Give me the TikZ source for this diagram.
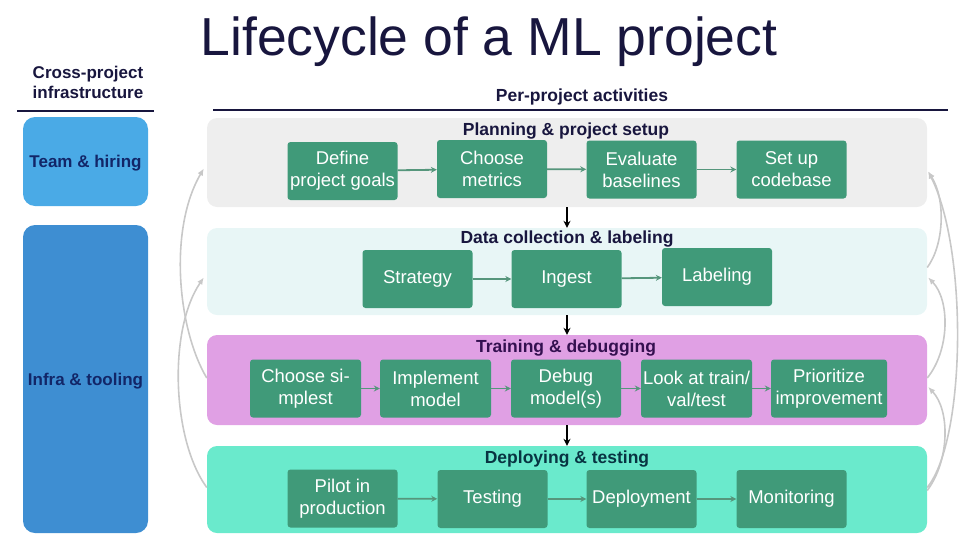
\documentclass[tikz,border=0pt]{standalone}
\usepackage{fontspec}
\setmainfont{Liberation Sans}
\usetikzlibrary{arrows.meta}
\definecolor{navy}{RGB}{24,22,62}
\definecolor{boxtext}{RGB}{18,38,104}
\definecolor{teamblue}{RGB}{74,170,230}
\definecolor{infrablue}{RGB}{62,142,210}
\definecolor{stepgreen}{RGB}{64,154,121}
\definecolor{flowgreen}{RGB}{86,150,124}
\definecolor{fbgray}{RGB}{200,200,200}
\definecolor{planbg}{RGB}{238,238,238}
\definecolor{databg}{RGB}{232,246,246}
\definecolor{trainbg}{RGB}{224,160,228}
\definecolor{deploybg}{RGB}{106,234,204}
\definecolor{traintext}{RGB}{52,16,80}
\definecolor{deploytext}{RGB}{8,52,66}
\begin{document}
\begin{tikzpicture}[x=1pt,y=-1pt,
  band/.style={rounded corners=10pt, minimum width=720pt, inner sep=0pt},
  stepbox/.style={fill=stepgreen, text=white, rounded corners=3pt,
    minimum width=110pt, minimum height=58pt, inner sep=0pt, align=center,
    font=\fontsize{18.5}{22}\selectfont},
  bandtitle/.style={anchor=base, inner sep=0pt, font=\fontsize{17.5}{20}\selectfont\bfseries},
  infra/.style={rounded corners=12pt, minimum width=125pt, inner sep=0pt,
    text height=12pt, text depth=0pt,
    text=boxtext, font=\fontsize{17}{20}\selectfont\bfseries},
  flow/.style={draw=flowgreen, line width=1.8pt, -{Stealth[length=6pt,width=6pt]}},
  down/.style={draw=black, line width=1.3pt, -{Stealth[length=7pt,width=7pt]}},
  feedback/.style={draw=fbgray, line width=1.6pt, -{Latex[length=7pt,width=6pt]}}
]
\useasboundingbox (0,0) rectangle (969,544);

% title
\node[anchor=base, inner sep=0pt, text=navy, font=\fontsize{53.5}{60}\selectfont] (title) at (489,55) {Lifecycle of a ML project};

% left column
\node[anchor=base, inner sep=0pt, align=center, text=navy, font=\fontsize{17}{20}\selectfont\bfseries] (crosshdr) at (88,98) {Cross-project\\infrastructure};
\coordinate (lhl) at (17,111);
\coordinate (lhr) at (154,111);
\draw[line width=1.2pt, navy] (lhl) -- (lhr);
\node[infra, fill=teamblue, minimum height=89pt] (team) at (85.5,161.5) {Team \& hiring};
\node[infra, fill=infrablue, minimum height=308pt] (infra) at (85.5,379) {Infra \& tooling};

% right header
\node[anchor=base, inner sep=0pt, text=navy, font=\fontsize{17.5}{20}\selectfont\bfseries] (perhdr) at (582,101) {Per-project activities};
\coordinate (rhl) at (213,110);
\coordinate (rhr) at (948,110);
\draw[line width=1.2pt, navy] (rhl) -- (rhr);

% bands
\node[band, fill=planbg, minimum height=89pt] (plan) at (567,162.5) {};
\node[band, fill=databg, minimum height=87pt] (data) at (567,271.5) {};
\node[band, fill=trainbg, minimum height=90pt] (train) at (567,380) {};
\node[band, fill=deploybg, minimum height=87pt] (deploy) at (567,489.5) {};

\node[bandtitle, text=navy] (plant) at (566,135) {Planning \& project setup};
\node[bandtitle, text=navy] (datat) at (567,243) {Data collection \& labeling};
\node[bandtitle, text=traintext] (traint) at (566,352) {Training \& debugging};
\node[bandtitle, text=deploytext] (deployt) at (567,463) {Deploying \& testing};

% row 1
\node[stepbox] (goals) at (342.5,171) {Define\\project goals};
\node[stepbox] (metrics) at (492,169) {Choose\\metrics};
\node[stepbox] (baselines) at (641.5,169.5) {Evaluate\\baselines};
\node[stepbox] (codebase) at (791.5,169.5) {Set up\\codebase};
% row 2
\node[stepbox] (strategy) at (417.5,279) {Strategy};
\node[stepbox] (ingest) at (566.5,279) {Ingest};
\node[stepbox] (labeling) at (717,277) {Labeling};
% row 3
\node[stepbox, minimum width=111pt] (simplest) at (305.5,388.5) {Choose si-\\mplest};
\node[stepbox, minimum width=111pt] (implement) at (435.5,388.5) {Implement\\model};
\node[stepbox] (debug) at (566,388.5) {Debug\\model(s)};
\node[stepbox, minimum width=111pt] (look) at (696.5,388.5) {Look at train/\\val/test};
\node[stepbox, minimum width=116pt] (prioritize) at (829,388.5) {Prioritize\\improvement};
% row 4
\node[stepbox] (pilot) at (342.5,498.5) {Pilot in\\production};
\node[stepbox] (testing) at (492.5,499) {Testing};
\node[stepbox] (deployment) at (641.5,499) {Deployment};
\node[stepbox] (monitoring) at (791.5,499) {Monitoring};

% flows within rows
\draw[flow] (goals) -- (metrics);
\draw[flow] (metrics) -- (baselines);
\draw[flow] (baselines) -- (codebase);
\draw[flow] (strategy) -- (ingest);
\draw[flow] (ingest) -- (labeling);
\draw[flow] (simplest) -- (implement);
\draw[flow] (implement) -- (debug);
\draw[flow] (debug) -- (look);
\draw[flow] (look) -- (prioritize);
\draw[flow] (pilot) -- (testing);
\draw[flow] (testing) -- (deployment);
\draw[flow] (deployment) -- (monitoring);

% stage to stage
\draw[down] (plan.south) -- (data.north);
\draw[down] (data.south) -- (train.north);
\draw[down] (train.south) -- (deploy.north);

% feedback left
\draw[feedback] ([yshift=2pt]train.west) .. controls (178,330) and (168,230) .. ([yshift=-6pt,xshift=-3pt]plan.west);
\draw[feedback] ([yshift=2pt]deploy.west) .. controls (172,440) and (168,330) .. ([yshift=-6pt,xshift=-3pt]data.west);
% feedback right
\draw[feedback] ([yshift=2pt]deploy.east) .. controls (966,440) and (968,250) .. ([yshift=-9pt,xshift=1pt]plan.east);
\draw[feedback] ([yshift=4pt]data.east) .. controls (944,245) and (946,200) .. ([yshift=-9pt,xshift=1pt]plan.east);
\draw[feedback] ([yshift=2pt]train.east) .. controls (950,350) and (950,300) .. ([yshift=-6pt,xshift=1pt]data.east);
\draw[feedback] ([yshift=-1pt]deploy.east) .. controls (950,460) and (950,410) .. ([yshift=-7pt,xshift=1pt]train.east);
\end{tikzpicture}
\end{document}
